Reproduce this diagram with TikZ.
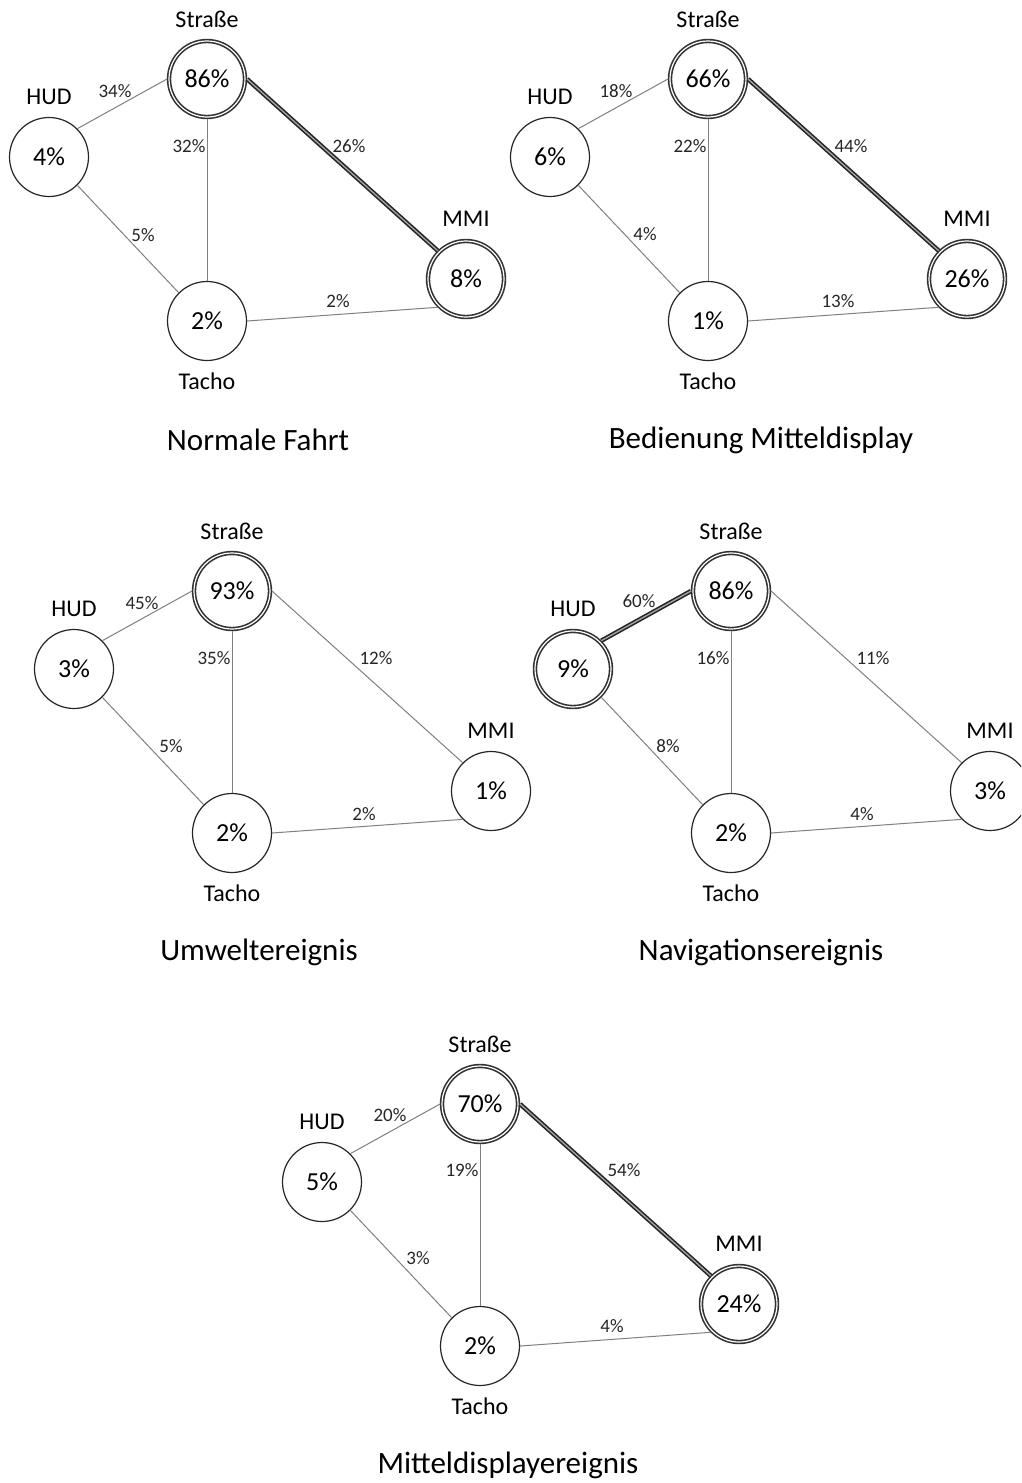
\documentclass[tikz,border=0pt]{standalone}
\usepackage{fontspec}
\setmainfont{Carlito}
\begin{document}
\begin{tikzpicture}[x=1pt,y=-1pt,
  val/.style={circle,draw=black!85,line width=1.2pt,minimum size=79pt,inner sep=0pt,
    fill=white,font=\fontsize{26}{26}\selectfont},
  valx/.style={val,draw=black!80,line width=1.6pt,double=white,double distance=1.2pt,
    minimum size=76pt,outer sep=2pt},
  aoi/.style={font=\fontsize{24}{24}\selectfont},
  lnk/.style={draw=black!50,line width=1pt},
  lnkx/.style={draw=black!85,line width=1.6pt,double=black!35,double distance=1.3pt},
  pct/.style={font=\fontsize{19}{19}\selectfont,text=black!85},
  capt/.style={font=\fontsize{31}{31}\selectfont}]

\useasboundingbox (0,0) rectangle (1021,1483);
\fill[white] (0,0) rectangle (1021,1483);
\clip (0,0) rectangle (1021,1483);

% ---------- Normale Fahrt ----------
\begin{scope}[shift={(207,79)}]
  \node[valx] (s1) at (0,0) {86\%};
  \node[val] (h1) at (-158,78) {4\%};
  \node[valx] (m1) at (259,200) {8\%};
  \node[val] (t1) at (0,242) {2\%};
  \node[aoi] (s1n) at (0,-60) {Straße};
  \node[aoi] (h1n) at (-158,18) {HUD};
  \node[aoi] (m1n) at (259,140) {MMI};
  \node[aoi] (t1n) at (0,302) {Tacho};
  \draw[lnk] (h1.north east) -- (s1.west);
  \draw[lnk] (s1.south) -- (t1.north);
  \draw[lnkx] (s1.east) -- (m1.north west);
  \draw[lnk] (h1.south east) -- (t1.north west);
  \draw[lnk] (t1.east) -- (m1.south west);
  \node[pct] (p1a) at (-92,12) {34\%};
  \node[pct] (p1b) at (-18,67) {32\%};
  \node[pct] (p1c) at (142,67) {26\%};
  \node[pct] (p1d) at (-64,156) {5\%};
  \node[pct] (p1e) at (131,222) {2\%};
\end{scope}

% ---------- Bedienung Mitteldisplay ----------
\begin{scope}[shift={(708,79)}]
  \node[valx] (s2) at (0,0) {66\%};
  \node[val] (h2) at (-158,78) {6\%};
  \node[valx] (m2) at (259,200) {26\%};
  \node[val] (t2) at (0,242) {1\%};
  \node[aoi] (s2n) at (0,-60) {Straße};
  \node[aoi] (h2n) at (-158,18) {HUD};
  \node[aoi] (m2n) at (259,140) {MMI};
  \node[aoi] (t2n) at (0,302) {Tacho};
  \draw[lnk] (h2.north east) -- (s2.west);
  \draw[lnk] (s2.south) -- (t2.north);
  \draw[lnkx] (s2.east) -- (m2.north west);
  \draw[lnk] (h2.south east) -- (t2.north west);
  \draw[lnk] (t2.east) -- (m2.south west);
  \node[pct] (p2a) at (-92,12) {18\%};
  \node[pct] (p2b) at (-18,67) {22\%};
  \node[pct] (p2c) at (143,67) {44\%};
  \node[pct] (p2d) at (-63,155) {4\%};
  \node[pct] (p2e) at (130,222) {13\%};
\end{scope}

% ---------- Umweltereignis ----------
\begin{scope}[shift={(232,591)}]
  \node[valx] (s3) at (0,0) {93\%};
  \node[val] (h3) at (-158,78) {3\%};
  \node[val] (m3) at (259,200) {1\%};
  \node[val] (t3) at (0,242) {2\%};
  \node[aoi] (s3n) at (0,-60) {Straße};
  \node[aoi] (h3n) at (-158,18) {HUD};
  \node[aoi] (m3n) at (259,140) {MMI};
  \node[aoi] (t3n) at (0,302) {Tacho};
  \draw[lnk] (h3.north east) -- (s3.west);
  \draw[lnk] (s3.south) -- (t3.north);
  \draw[lnk] (s3.east) -- (m3.north west);
  \draw[lnk] (h3.south east) -- (t3.north west);
  \draw[lnk] (t3.east) -- (m3.south west);
  \node[pct] (p3a) at (-90,12) {45\%};
  \node[pct] (p3b) at (-18,67) {35\%};
  \node[pct] (p3c) at (144,67) {12\%};
  \node[pct] (p3d) at (-61,155) {5\%};
  \node[pct] (p3e) at (132,223) {2\%};
\end{scope}

% ---------- Navigationsereignis ----------
\begin{scope}[shift={(731,591)}]
  \node[valx] (s4) at (0,0) {86\%};
  \node[valx] (h4) at (-158,78) {9\%};
  \node[val] (m4) at (259,200) {3\%};
  \node[val] (t4) at (0,242) {2\%};
  \node[aoi] (s4n) at (0,-60) {Straße};
  \node[aoi] (h4n) at (-158,18) {HUD};
  \node[aoi] (m4n) at (259,140) {MMI};
  \node[aoi] (t4n) at (0,302) {Tacho};
  \draw[lnkx] (h4.north east) -- (s4.west);
  \draw[lnk] (s4.south) -- (t4.north);
  \draw[lnk] (s4.east) -- (m4.north west);
  \draw[lnk] (h4.south east) -- (t4.north west);
  \draw[lnk] (t4.east) -- (m4.south west);
  \node[pct] (p4a) at (-92,10) {60\%};
  \node[pct] (p4b) at (-18,67) {16\%};
  \node[pct] (p4c) at (142,67) {11\%};
  \node[pct] (p4d) at (-63,155) {8\%};
  \node[pct] (p4e) at (131,223) {4\%};
\end{scope}

% ---------- Mitteldisplayereignis ----------
\begin{scope}[shift={(480,1104)}]
  \node[valx] (s5) at (0,0) {70\%};
  \node[val] (h5) at (-158,78) {5\%};
  \node[valx] (m5) at (259,200) {24\%};
  \node[val] (t5) at (0,242) {2\%};
  \node[aoi] (s5n) at (0,-60) {Straße};
  \node[aoi] (h5n) at (-158,18) {HUD};
  \node[aoi] (m5n) at (259,140) {MMI};
  \node[aoi] (t5n) at (0,302) {Tacho};
  \draw[lnk] (h5.north east) -- (s5.west);
  \draw[lnk] (s5.south) -- (t5.north);
  \draw[lnkx] (s5.east) -- (m5.north west);
  \draw[lnk] (h5.south east) -- (t5.north west);
  \draw[lnk] (t5.east) -- (m5.south west);
  \node[pct] (p5a) at (-90,11) {20\%};
  \node[pct] (p5b) at (-18,66) {19\%};
  \node[pct] (p5c) at (144,66) {54\%};
  \node[pct] (p5d) at (-62,154) {3\%};
  \node[pct] (p5e) at (132,222) {4\%};
\end{scope}

% ---------- captions ----------
\node[capt] (c1) at (258,440) {Normale Fahrt};
\node[capt] (c2) at (761,440) {Bedienung Mitteldisplay};
\node[capt] (c3) at (259,952) {Umweltereignis};
\node[capt] (c4) at (761,952) {Navigationsereignis};
\node[capt] (c5) at (508,1465) {Mitteldisplayereignis};
\end{tikzpicture}
\end{document}
